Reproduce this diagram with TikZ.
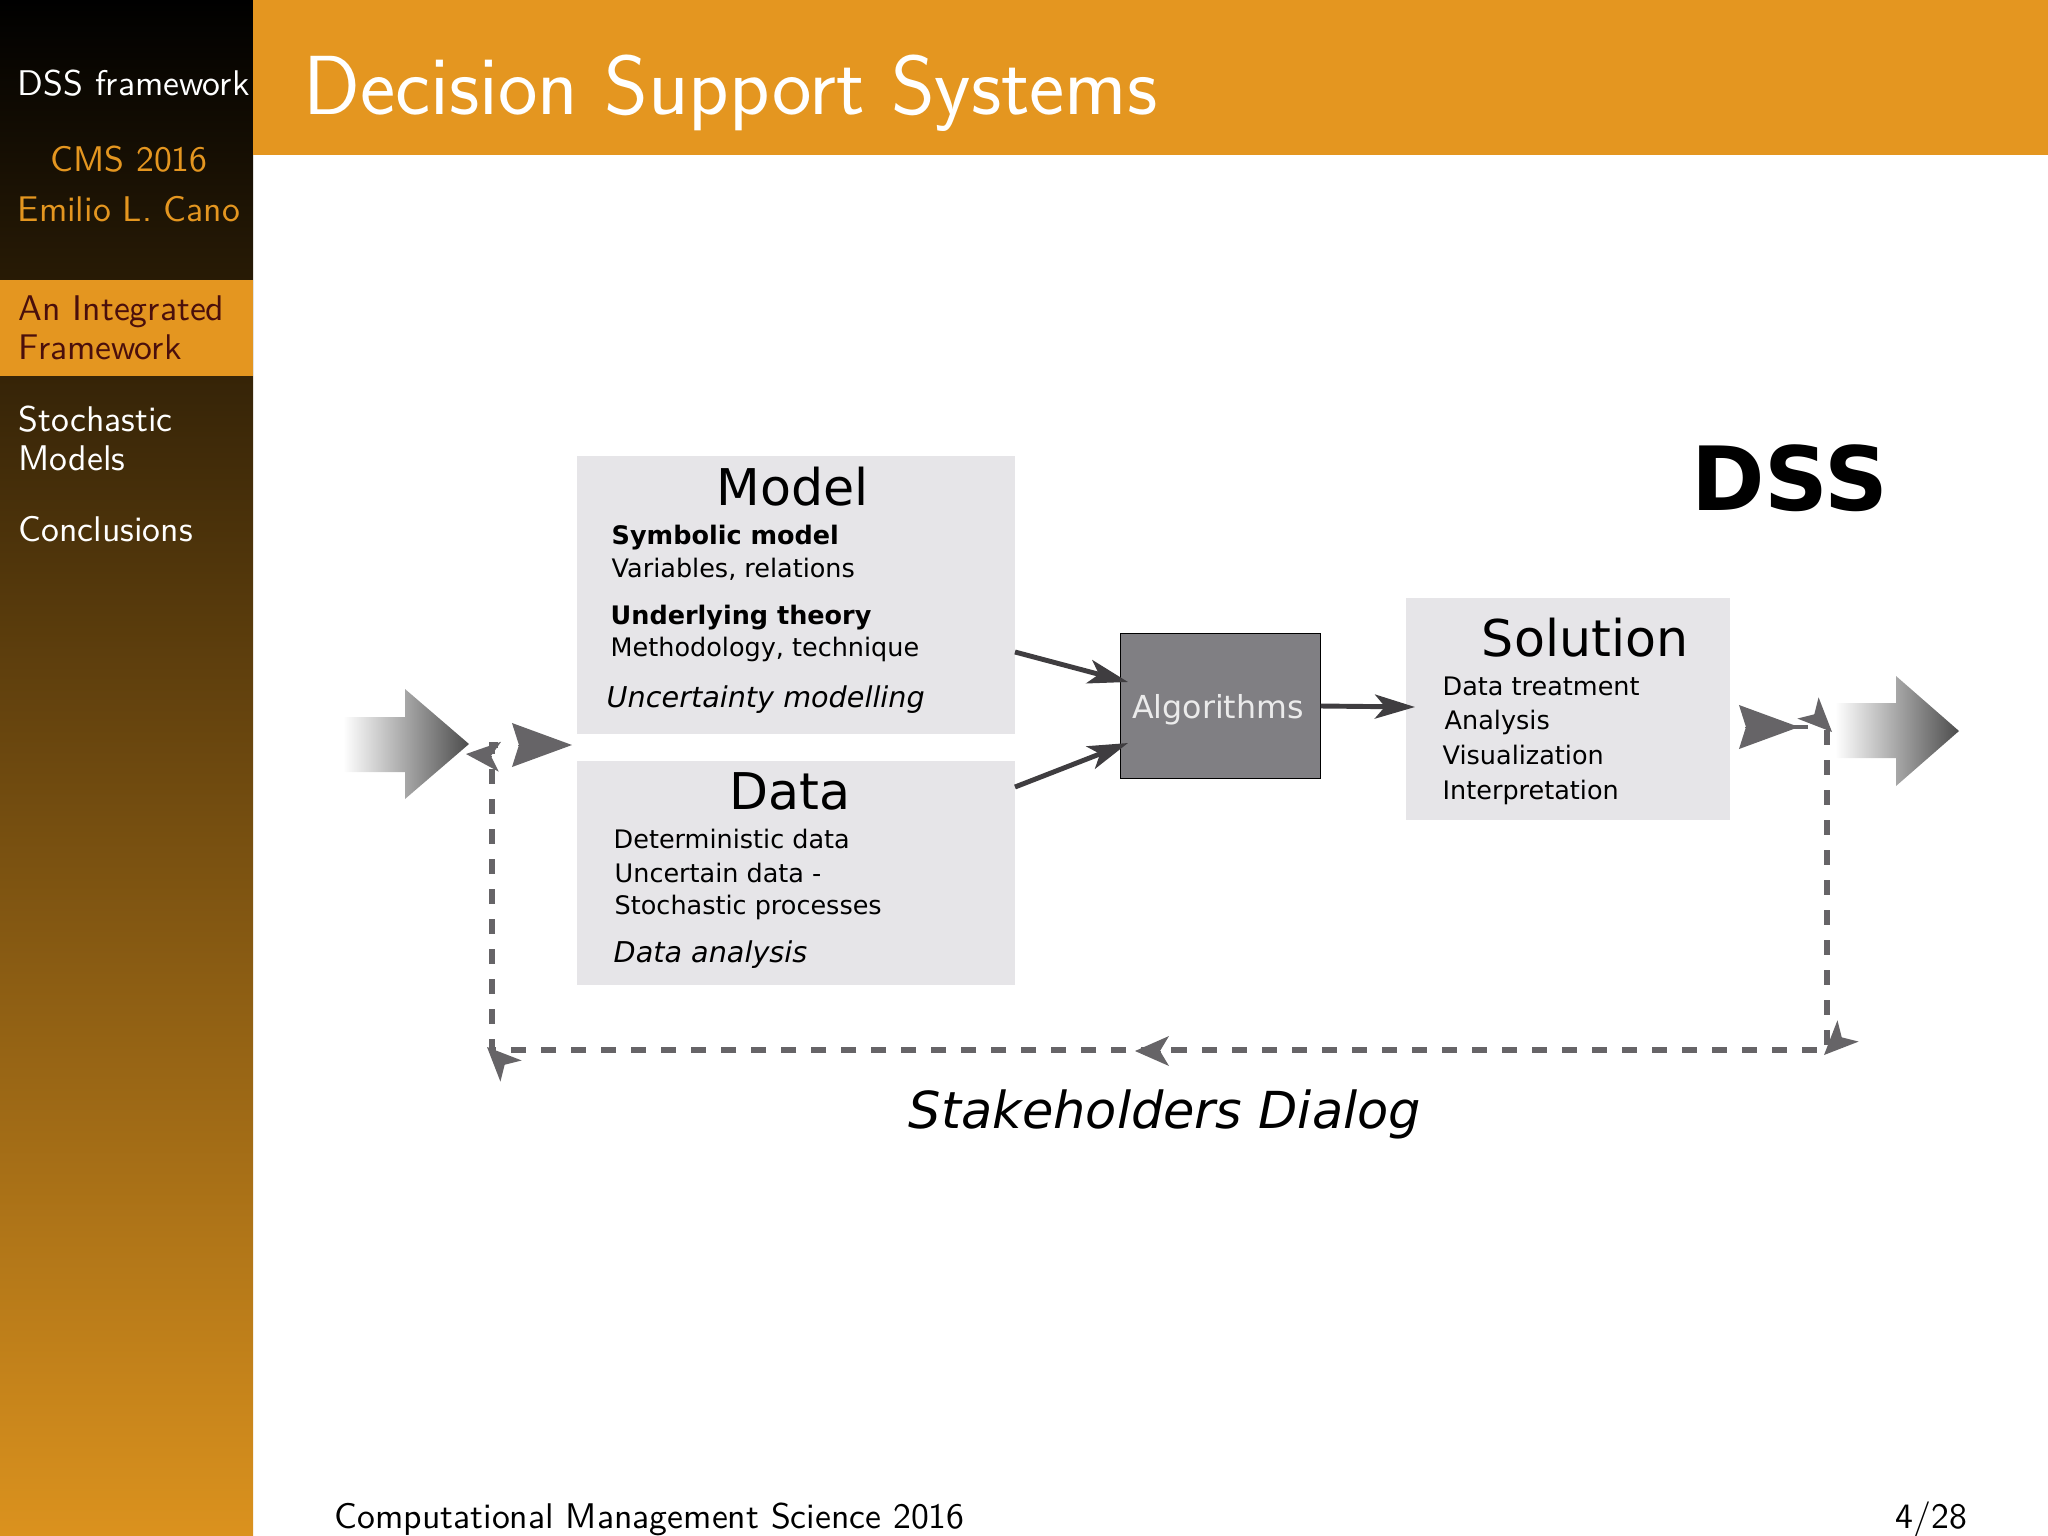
\documentclass[tikz,border=0pt]{standalone}
\usepackage{fontspec}
\usetikzlibrary{arrows.meta}
\newfontfamily\dejavu{DejaVu Sans}
\definecolor{barorange}{HTML}{E49620}
\definecolor{sideorange}{HTML}{DB921E}
\definecolor{activered}{HTML}{4A0F0C}
\definecolor{boxgray}{HTML}{E6E5E8}
\definecolor{algogray}{HTML}{807F83}
\definecolor{flowgray}{HTML}{3F3D40}
\definecolor{loopgray}{HTML}{666467}
\tikzset{
  panel/.style={fill=boxgray, inner sep=0pt},
  heading/.style={anchor=base, font=\dejavu\fontsize{14.4}{16}\selectfont},
  line/.style={anchor=base west, inner sep=0pt, font=\dejavu\fontsize{7.25}{9}\selectfont},
  boldline/.style={line, font=\dejavu\bfseries\fontsize{7.25}{9}\selectfont},
  slantline/.style={line, font=\dejavu\itshape\fontsize{8.15}{10}\selectfont},
  menu/.style={anchor=base west, inner sep=0pt, white, font=\sffamily\fontsize{10.15}{12}\selectfont},
  flow/.style={flowgray, line width=1.4pt, -{Stealth[length=4mm, width=2.4mm, inset=1mm]}},
  feedback/.style={loopgray, line width=1.5pt, dash pattern=on 0.15cm off 0.15cm},
  bighead/.style={loopgray, line width=0pt, -{Stealth[length=6mm, width=4.4mm, inset=0.7mm]}},
  smallhead/.style={loopgray, line width=0pt, -{Stealth[length=3.4mm, width=3mm, inset=0.9mm]}},
}
\begin{document}
\begin{tikzpicture}[x=0.01cm, y=-0.01cm]
  \useasboundingbox (0,0) rectangle (2048,1536);
  % slide frame
  \shade[top color=black, bottom color=sideorange] (0,0) rectangle (253,1536);
  \fill[barorange] (253,0) rectangle (2048,155);
  \fill[barorange] (0,280) rectangle (253,376);
  \node[anchor=base west, inner sep=0pt, white, font=\sffamily\fontsize{23.85}{27}\selectfont] (title) at (303,114) {Decision Support Systems};
  \node[menu] (talk) at (17,95) {DSS framework};
  \node[menu, anchor=base, barorange] (event) at (129,171) {CMS 2016};
  \node[menu, anchor=base, barorange] (speaker) at (129,221) {Emilio L. Cano};
  \node[menu, activered] (sec1a) at (18,320) {An Integrated};
  \node[menu, activered] (sec1b) at (18,359) {Framework};
  \node[menu] (sec2a) at (18,431) {Stochastic};
  \node[menu] (sec2b) at (18,470) {Models};
  \node[menu] (sec3) at (18,541) {Conclusions};
  \node[anchor=base west, inner sep=0pt, black, font=\sffamily\fontsize{10.15}{12}\selectfont] (footer) at (334,1528) {Computational Management Science 2016};
  \node[anchor=base east, inner sep=0pt, black, font=\sffamily\fontsize{10.15}{12}\selectfont] (pageno) at (1968,1528) {4/28};
  % boxes
  \node[panel, minimum width=4.38cm, minimum height=2.78cm] (model) at (796,595) {};
  \node[panel, minimum width=4.38cm, minimum height=2.24cm] (data) at (796,873) {};
  \node[panel, minimum width=3.24cm, minimum height=2.22cm] (solution) at (1568,709) {};
  \node[draw=black, line width=0.3pt, fill=algogray, inner sep=0pt, minimum width=1.99cm, minimum height=1.44cm] (algorithms) at (1220.5,706) {};
  % box texts
  \node[heading] (modeltitle) at (793,505) {Model};
  \node[boldline] (symbolic) at (611,544) {Symbolic model};
  \node[line] (variables) at (611,577) {Variables, relations};
  \node[boldline] (theory) at (610,624) {Underlying theory};
  \node[line] (method) at (610,656) {Methodology, technique};
  \node[slantline] (uncertainty) at (606,707) {Uncertainty modelling};
  \node[heading] (datatitle) at (790,809) {Data};
  \node[line] (determ) at (613,848) {Deterministic data};
  \node[line] (uncertain) at (614,882) {Uncertain data -};
  \node[line] (stoch) at (614,914) {Stochastic processes};
  \node[slantline] (analysis) at (613,962) {Data analysis};
  \node[anchor=base, inner sep=0pt, white!92!black, font=\dejavu\fontsize{9}{11}\selectfont] (algotext) at (1218,718) {Algorithms};
  \node[heading] (solutiontitle) at (1585,656) {Solution};
  \node[line] (treatment) at (1442,695) {Data treatment};
  \node[line] (analysis2) at (1444,729) {Analysis};
  \node[line] (visual) at (1442,764) {Visualization};
  \node[line] (interp) at (1442,799) {Interpretation};
  \node[anchor=base, inner sep=0pt, font=\dejavu\bfseries\fontsize{25.2}{29}\selectfont] (dss) at (1790,510) {DSS};
  \node[anchor=base, inner sep=0pt, font=\dejavu\itshape\fontsize{14.5}{17}\selectfont] (dialog) at (1165,1128) {Stakeholders Dialog};
  % big arrows
  \shade[left color=white, right color=black!70] (343,717) -- (405,717) -- (405,689) -- (469,744) -- (405,799) -- (405,772) -- (343,772) -- cycle;
  \shade[left color=white, right color=black!70] (1835,703) -- (1896,703) -- (1896,676) -- (1959,731) -- (1896,786) -- (1896,758) -- (1835,758) -- cycle;
  % arrows between boxes
  \coordinate (modelout) at (1015,652);
  \coordinate (modelin) at (1128,682);
  \coordinate (dataout) at (1015,787);
  \coordinate (datain) at (1128,743);
  \coordinate (solin) at (1415,707);
  \draw[flow] (modelout) -- (modelin);
  \draw[flow] (dataout) -- (datain);
  \draw[flow] (algorithms.east) -- (solin);
  % stakeholders loop
  \coordinate (inback) at (519,745);
  \coordinate (intip) at (572,745);
  \coordinate (outback) at (1746,727);
  \coordinate (outtip) at (1799,727);
  \coordinate (outstart) at (1780,727);
  \coordinate (outend) at (1808,727);
  \coordinate (topright) at (1827,730);
  \coordinate (botright) at (1827,1050);
  \coordinate (botleft) at (492,1050);
  \coordinate (topleft) at (492,745);
  \coordinate (inend) at (510,745);
  \draw[feedback] (topright) -- (botright) -- (botleft) -- (topleft) -- (inend);
  \draw[loopgray, line width=1.4pt] (outstart) -- (outend);
  \draw[bighead] (inback) -- (intip);
  \draw[bighead] (outback) -- (outtip);
  \draw[smallhead] (1814.3,714.3) -- (1832,732);
  \draw[smallhead] (1841.7,1037.3) -- (1824,1055);
  \draw[smallhead] (1160,1051) -- (1135,1051);
  \draw[smallhead] (504.7,1064.7) -- (487,1047);
  \draw[smallhead] (491,756) -- (466,754);
\end{tikzpicture}
\end{document}
